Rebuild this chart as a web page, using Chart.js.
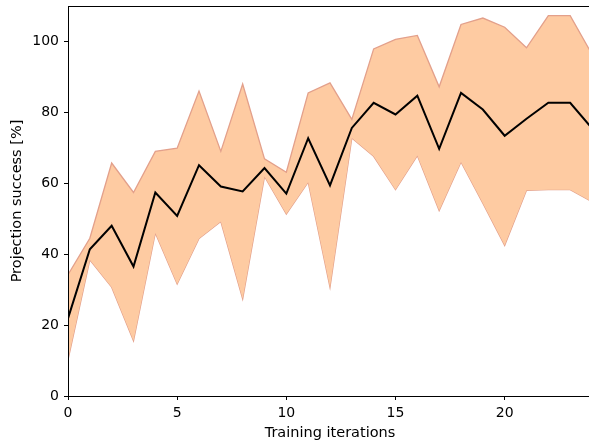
<!DOCTYPE html>
<html>
<head>
<meta charset="utf-8">
<script src="https://cdn.jsdelivr.net/npm/chart.js@4/dist/chart.umd.min.js"></script>
<style>
  html, body { margin: 0; padding: 0; background: #fff; overflow: hidden; }
  #wrap { width: 592px; height: 444px; }
</style>
</head>
<body>
<div id="wrap"><canvas id="myChart"></canvas></div>
<script>
    // values
    const iterations = [0,1,2,3,4,5,6,7,8,9,10,11,12,13,14,15,16,17,18,19,20,21,22,23,24];
    const meanSuccess = [21.9,41.4,48.0,36.5,57.4,50.8,65.1,59.1,57.7,64.3,57.1,72.7,59.4,75.6,82.7,79.4,84.7,69.7,85.5,80.8,73.4,78.2,82.7,82.7,75.5];
    const upperBound = [34.2,44.5,65.7,57.4,69.0,69.9,86.0,69.0,88.0,66.9,63.1,85.5,88.3,78.0,97.9,100.6,101.7,87.2,104.8,106.6,104.0,98.2,107.3,107.3,96.4];
    const lowerBound = [10.2,38.4,30.7,15.6,46.0,31.6,44.4,49.2,27.4,61.9,51.3,60.3,30.7,72.8,67.6,58.2,67.8,52.3,66.0,54.4,42.5,58.0,58.2,58.2,54.8];
    const xTicks = [0,5,10,15,20];
    const yTicks = [0,20,40,60,80,100];

    const fontFamily = '"DejaVu Sans", sans-serif';
    const pts = arr => arr.map((v, i) => ({x: iterations[i], y: v}));

    // box around the plot area
    const frame = {
        id: 'frame',
        afterDatasetsDraw(chart) {
            const a = chart.chartArea;
            const ctx = chart.ctx;
            ctx.save();
            ctx.strokeStyle = '#000';
            ctx.lineWidth = 1;
            ctx.strokeRect(Math.round(a.left) + 0.5, Math.round(a.top) + 0.5, Math.round(a.right - a.left), Math.round(a.bottom - a.top));
            ctx.restore();
        }
    };

    const ctx = document.getElementById('myChart');
    const myChart = new Chart(ctx, {
        type: 'line',
        data: {
            datasets: [
                {
                    label: 'lower',
                    data: pts(lowerBound),
                    borderColor: '#e3a08b',
                    borderWidth: 1.3,
                    pointRadius: 0,
                    fill: false,
                    order: 2
                },
                {
                    label: 'upper',
                    data: pts(upperBound),
                    borderColor: '#e3a08b',
                    borderWidth: 1.3,
                    backgroundColor: '#fecba2',
                    pointRadius: 0,
                    fill: '-1',
                    order: 1
                },
                {
                    label: 'mean',
                    data: pts(meanSuccess),
                    borderColor: '#000',
                    borderWidth: 2,
                    pointRadius: 0,
                    fill: false,
                    order: -1
                }
            ]
        },
        options: {
            responsive: true,
            maintainAspectRatio: false,
            animation: false,
            layout: { padding: { top: 6, right: 0, left: 0, bottom: 0 } },
            plugins: { legend: { display: false }, tooltip: { enabled: false } },
            scales: {
                x: {
                    type: 'linear',
                    min: 0,
                    max: 24,
                    afterBuildTicks: s => { s.ticks = xTicks.map(v => ({value: v})); },
                    afterFit: s => { s.height = 48; },
                    grid: { drawOnChartArea: false, color: '#000', tickLength: 4, tickWidth: 1 },
                    border: { display: false },
                    ticks: { color: '#000', font: { family: fontFamily, size: 14 }, padding: 5, maxRotation: 0 },
                    title: { display: true, text: 'Training iterations', color: '#000', font: { family: fontFamily, size: 14.5 }, padding: { top: 0, bottom: 2 } }
                },
                y: {
                    min: 0,
                    max: 110,
                    afterBuildTicks: s => { s.ticks = yTicks.map(v => ({value: v})); },
                    afterFit: s => { s.width = 68; s.paddingTop = 0; s.paddingBottom = 0; },
                    grid: { drawOnChartArea: false, color: '#000', tickLength: 4, tickWidth: 1 },
                    border: { display: false },
                    ticks: { color: '#000', font: { family: fontFamily, size: 14 }, padding: 5 },
                    title: { display: true, text: 'Projection success [%]', color: '#000', font: { family: fontFamily, size: 14.5 }, padding: { top: 9, bottom: 4 } }
                }
            }
        },
        plugins: [frame]
    });
</script>
</body>
</html>
